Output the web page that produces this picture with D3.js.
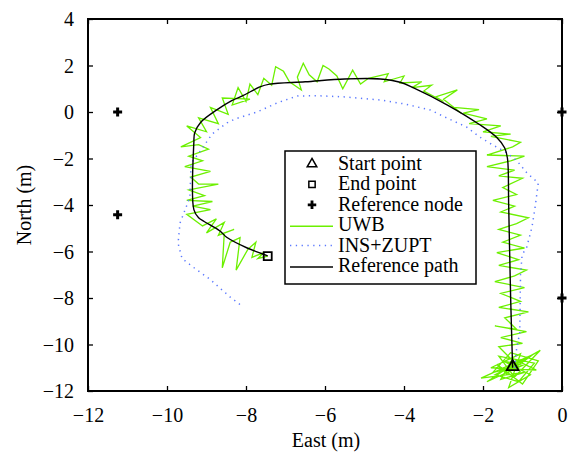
<!DOCTYPE html>
<html>
<head>
<meta charset="utf-8">
<script src="https://cdn.jsdelivr.net/npm/d3@7"></script>
<style>
  body { margin: 0; background: #fff; }
  svg text { font-family: "Liberation Serif", "Times New Roman", serif !important; }
</style>
</head>
<body>
<div id="chart"></div>
<script>
var svgWidth = 573;
var svgHeight = 456;

var margin = { top: 19, right: 11, bottom: 65, left: 88 };
var width = svgWidth - margin.left - margin.right;
var height = svgHeight - margin.top - margin.bottom;

// Data (metres)
var xTicks = [-12, -10, -8, -6, -4, -2, 0];
var yTicks = [-12, -10, -8, -6, -4, -2, 0, 2, 4];

var startPoint = [-1.25, -11.0];
var endPoint = [-7.45, -6.2];
var refNodes = [[-11.25, 0], [-11.25, -4.42], [0, 0], [0, -8]];

var refPath = [
  [-1.25, -11.0], [-1.3, -8.0], [-1.35, -4.0], [-1.38, -2.0], [-1.45, -1.55],
  [-1.65, -1.1], [-2.08, -0.55], [-2.9, 0.3], [-3.77, 1.05], [-4.1, 1.28],
  [-4.6, 1.42], [-5.5, 1.42], [-6.5, 1.3], [-7.4, 1.2], [-7.65, 1.08],
  [-8.08, 0.7], [-8.35, 0.5], [-8.73, 0.1], [-9.15, -0.45], [-9.3, -0.9],
  [-9.32, -1.3], [-9.32, -4.2], [-9.2, -4.55], [-9.05, -4.72], [-8.66, -5.12],
  [-8.48, -5.4], [-7.97, -5.85], [-7.65, -6.06], [-7.45, -6.19]
];

var insPath = [
  [-1.2, -11.0], [-1.15, -10.2], [-1.07, -9.5], [-1.06, -8.3], [-1.05, -7.0],
  [-1.01, -6.15], [-0.89, -5.8], [-0.76, -4.95], [-0.68, -4.09], [-0.6, -3.05],
  [-0.89, -2.62], [-1.14, -2.1], [-1.45, -1.7], [-1.75, -1.42], [-2.08, -1.08],
  [-2.41, -0.65], [-2.91, -0.26], [-3.34, 0.09], [-4.0, 0.35], [-4.61, 0.52],
  [-5.5, 0.65], [-6.2, 0.7], [-6.7, 0.69], [-7.2, 0.4], [-7.72, 0.0],
  [-8.28, -0.3], [-8.48, -0.47], [-8.86, -0.95], [-9.19, -1.76], [-9.39, -2.2],
  [-9.42, -3.65], [-9.54, -4.2], [-9.67, -4.77], [-9.72, -5.65], [-9.62, -6.3],
  [-9.34, -6.67], [-8.91, -7.2], [-8.4, -7.96], [-8.1, -8.35]
];

var uwbPath = [
  [-1.3, -11.0], [-0.9, -10.6], [-1.7, -11.3], [-1.1, -11.6], [-0.7, -10.8],
  [-1.6, -10.5], [-1.2, -11.4], [-0.55, -10.25], [-1.45, -11.1], [-1.9, -11.6],
  [-1.0, -10.9], [-1.5, -10.7], [-0.8, -11.3], [-1.35, -11.85], [-1.05, -10.4],
  [-1.8, -11.0], [-0.65, -11.1], [-1.25, -10.6], [-1.55, -11.5], [-0.95, -11.2],
  [-2.05, -11.45], [-1.15, -10.75], [-0.75, -10.45], [-1.4, -11.25], [-1.65, -10.85],
  [-1.0, -11.7], [-0.6, -10.7], [-1.3, -10.35], [-1.75, -11.2], [-1.1, -10.95],
  [-1.6, -10.1], [-1.0, -9.95], [-1.55, -9.7], [-0.9, -9.45], [-1.7, -9.2],
  [-1.15, -9.35], [-1.45, -8.85], [-0.85, -8.6], [-1.6, -8.4], [-1.05, -8.15],
  [-1.55, -7.8], [-0.95, -7.55], [-1.7, -7.3], [-1.2, -7.05], [-0.9, -6.8],
  [-1.6, -6.6], [-1.1, -6.35], [-1.65, -6.05], [-0.95, -5.85], [-1.5, -5.6],
  [-1.05, -5.3], [-1.6, -5.05], [-1.15, -4.8], [-0.85, -4.55], [-1.55, -4.3],
  [-1.2, -4.05], [-1.75, -3.8], [-1.15, -3.55], [-1.5, -3.25], [-1.0, -2.85],
  [-1.6, -2.75], [-1.2, -2.5], [-1.9, -2.35], [-1.3, -2.1], [-0.95, -1.9],
  [-1.9, -1.85], [-1.25, -1.5], [-1.05, -1.3], [-1.8, -1.05], [-1.3, -0.95],
  [-2.0, -0.85], [-1.55, -0.6], [-2.35, -0.5], [-1.9, -0.3], [-2.5, -0.05],
  [-2.1, 0.1], [-2.75, 0.2], [-2.55, -0.05], [-3.0, 0.55], [-2.65, 0.95],
  [-3.2, 0.65], [-3.0, 0.45], [-3.5, 0.9], [-3.3, 1.15], [-3.8, 1.05],
  [-3.55, 1.3], [-4.1, 1.25], [-4.0, 1.55], [-4.5, 1.3], [-4.4, 1.65],
  [-4.9, 1.45], [-5.1, 1.2], [-5.3, 1.8], [-5.55, 1.0], [-5.7, 1.55],
  [-5.9, 1.85], [-6.05, 2.0], [-6.2, 1.3], [-6.4, 1.6], [-6.55, 2.1],
  [-6.7, 1.5], [-6.6, 0.95], [-6.9, 1.3], [-7.05, 1.75], [-7.25, 1.95],
  [-7.35, 1.15], [-7.55, 1.45], [-7.7, 0.75], [-7.9, 1.2], [-8.0, 0.45],
  [-8.2, 1.05], [-8.35, 0.3], [-7.9, 0.55], [-8.6, 0.6], [-8.45, -0.1],
  [-8.9, 0.2], [-8.7, -0.5], [-9.2, -0.25], [-9.0, -0.85], [-9.5, -0.6],
  [-9.15, -1.1], [-9.65, -1.5], [-9.2, -1.4], [-8.95, -1.6], [-9.45, -1.9],
  [-9.1, -2.1], [-9.55, -2.35], [-8.9, -2.55], [-9.4, -2.8], [-9.2, -3.1],
  [-8.7, -3.1], [-9.45, -3.35], [-9.05, -3.6], [-9.5, -3.8], [-8.85, -3.85],
  [-9.35, -4.05], [-8.9, -4.2], [-9.5, -4.4], [-9.1, -4.9], [-8.75, -4.6],
  [-9.0, -5.2], [-8.55, -4.75], [-8.7, -5.3], [-8.3, -5.05], [-8.55, -5.2],
  [-8.6, -6.7], [-8.4, -5.6], [-8.15, -5.4], [-8.25, -6.8], [-7.95, -5.9],
  [-7.75, -5.6], [-7.85, -6.25], [-7.55, -6.05], [-7.7, -6.3], [-7.45, -6.2]
];

var legendItems = ["Start point", "End point", "Reference node", "UWB", "INS+ZUPT", "Reference path"];

var serif = "'Liberation Serif', 'Times New Roman', serif";

var svg = d3.select("#chart")
  .append("svg")
  .attr("width", svgWidth)
  .attr("height", svgHeight)
  .style("font-family", serif);

var chartGroup = svg.append("g")
  .attr("transform", `translate(${margin.left}, ${margin.top})`);

var x = d3.scaleLinear().domain([-12, 0]).range([0, width]);
var y = d3.scaleLinear().domain([-12, 4]).range([height, 0]);

// axes: inward ticks on all four sides
function styleAxis(g) {
  g.attr("font-family", null).style("font-family", serif);
  g.select(".domain").remove();
  g.selectAll(".tick line").attr("stroke", "#000").attr("stroke-width", 1.3);
  g.selectAll(".tick text").attr("font-size", "20px").attr("fill", "#000")
    .style("font-family", serif);
}

chartGroup.append("g")
  .attr("class", "x-axis")
  .attr("transform", `translate(0, ${height})`)
  .call(d3.axisBottom(x).tickValues(xTicks).tickSize(-5).tickPadding(17))
  .call(styleAxis);

chartGroup.append("g")
  .call(d3.axisTop(x).tickValues(xTicks).tickSize(-5).tickFormat(""))
  .call(styleAxis);

chartGroup.append("g")
  .attr("class", "y-axis")
  .call(d3.axisLeft(y).tickValues(yTicks).tickSize(-5).tickPadding(14))
  .call(styleAxis);

chartGroup.append("g")
  .attr("transform", `translate(${width}, 0)`)
  .call(d3.axisRight(y).tickValues(yTicks).tickSize(-5).tickFormat(""))
  .call(styleAxis);

chartGroup.selectAll(".y-axis .tick text").attr("dy", "0.33em");

var line = d3.line().x(d => x(d[0])).y(d => y(d[1]));

// UWB
chartGroup.append("path")
  .datum(uwbPath)
  .attr("d", line)
  .attr("fill", "none")
  .attr("stroke", "#6cf000")
  .attr("stroke-width", 1.3);

// INS+ZUPT
chartGroup.append("path")
  .datum(insPath)
  .attr("d", line)
  .attr("fill", "none")
  .attr("stroke", "#5a78ff")
  .attr("stroke-width", 1.5)
  .attr("stroke-dasharray", "1.3,4.5");

// Reference path
chartGroup.append("path")
  .datum(refPath)
  .attr("d", d3.line().x(d => x(d[0])).y(d => y(d[1])).curve(d3.curveCatmullRom.alpha(0.5)))
  .attr("fill", "none")
  .attr("stroke", "#000")
  .attr("stroke-width", 1.4);

// markers
var triangle = d3.symbol().type(d3.symbolTriangle);
var square = d3.symbol().type(d3.symbolSquare);
var cross = d3.symbol().type(d3.symbolCross);

chartGroup.append("path")
  .attr("d", triangle.size(60)())
  .attr("transform", `translate(${x(startPoint[0])}, ${y(startPoint[1]) - 1})`)
  .attr("fill", "none").attr("stroke", "#000").attr("stroke-width", 1.8);

chartGroup.append("path")
  .attr("d", square.size(64)())
  .attr("transform", `translate(${x(endPoint[0])}, ${y(endPoint[1])})`)
  .attr("fill", "none").attr("stroke", "#000").attr("stroke-width", 1.8);

chartGroup.selectAll(".node")
  .data(refNodes)
  .enter()
  .append("path")
  .attr("class", "node")
  .attr("d", cross.size(45)())
  .attr("transform", d => `translate(${x(d[0])}, ${y(d[1])})`)
  .attr("fill", "#000");

// frame
chartGroup.append("rect")
  .attr("width", width)
  .attr("height", height)
  .attr("fill", "none")
  .attr("stroke", "#000")
  .attr("stroke-width", 2);

// Legend
var legend = svg.append("g").attr("transform", "translate(285, 151)");
legend.append("rect")
  .attr("width", 191)
  .attr("height", 133)
  .attr("fill", "#fff")
  .attr("stroke", "#000")
  .attr("stroke-width", 1.5);

var rowY = d => 19 + d * 20.4;

legend.selectAll(".ltext")
  .data(legendItems)
  .enter()
  .append("text")
  .attr("class", "ltext")
  .attr("x", 53)
  .attr("y", (d, i) => rowY(i))
  .attr("font-size", "20px")
  .attr("fill", "#000")
  .text(d => d);

legend.append("path").attr("d", triangle.size(40)())
  .attr("transform", `translate(27, ${rowY(0) - 6})`)
  .attr("fill", "none").attr("stroke", "#000").attr("stroke-width", 1.5);
legend.append("path").attr("d", square.size(40)())
  .attr("transform", `translate(27, ${rowY(1) - 6})`)
  .attr("fill", "none").attr("stroke", "#000").attr("stroke-width", 1.5);
legend.append("path").attr("d", cross.size(40)())
  .attr("transform", `translate(27, ${rowY(2) - 6})`)
  .attr("fill", "#000");
legend.append("line").attr("x1", 5).attr("x2", 48)
  .attr("y1", rowY(3) - 5).attr("y2", rowY(3) - 5)
  .attr("stroke", "#6cf000").attr("stroke-width", 1.5);
legend.append("line").attr("x1", 5).attr("x2", 48)
  .attr("y1", rowY(4) - 6).attr("y2", rowY(4) - 6)
  .attr("stroke", "#5a78ff").attr("stroke-width", 1.5).attr("stroke-dasharray", "1.3,4.5");
legend.append("line").attr("x1", 5).attr("x2", 48)
  .attr("y1", rowY(5) - 5).attr("y2", rowY(5) - 5)
  .attr("stroke", "#000").attr("stroke-width", 1.4);

// Axes labels
svg.append("text")
  .attr("x", 326)
  .attr("y", 447)
  .attr("text-anchor", "middle")
  .attr("font-size", "20px")
  .text("East (m)");

svg.append("text")
  .attr("transform", "translate(31, 205) rotate(-90)")
  .attr("text-anchor", "middle")
  .attr("font-size", "20px")
  .text("North (m)");
</script>
</body>
</html>
